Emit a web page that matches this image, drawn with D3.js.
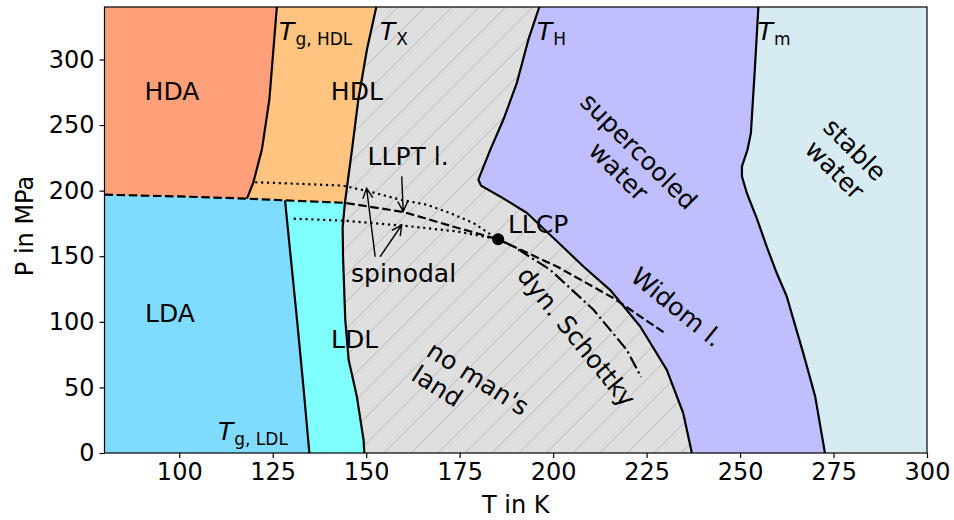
<!DOCTYPE html>
<html>
<head>
<meta charset="utf-8">
<script src="https://cdn.jsdelivr.net/npm/d3@7"></script>
<style>
  body { margin: 0; background: #fff; }
  text { font-family: "DejaVu Sans", sans-serif; fill: #000; }
</style>
</head>
<body>
<svg id="chart" width="954" height="520"></svg>
<script>
// Phase diagram of amorphous / supercooled water. Points are [T in K, P in MPa].

// Glass transition of HDL (HDA | HDL)
const tgHDL = [[126.1,340],[124.1,269.5],[122.1,231.3],[119.8,206.1],[118.1,193.9]];
// Crystallisation line T_X, above and below the LLPT line
const txUpper = [[152.7,340],[150.2,307.6],[147.9,269.5],[146.2,231.3],[144.3,190.7]];
const txLower = [[144.3,190.7],[143.7,172],[143.8,150],[144.4,101.5],[145.3,71.0],[147.5,43.0],[149.3,9.9],[149.5,0]];
// Glass transition of LDL (LDA | LDL)
const tgLDL = [[128.3,192.6],[128.8,177.9],[131.5,101.5],[133.2,50.6],[134.8,0]];
// Liquid-liquid phase transition line, ending in the critical point
const llcp = [185.3,162.9];
const llpt = [[80,196.9],[100,195.6],[118.1,193.9],[128.3,192.6],[144.3,190.7],[160.0,183.7],[173.4,172.5],[185.3,162.9]];
// Spinodals
const spinUpper = [[120.3,206.4],[132,205.2],[143.9,203.8],[152,198.5],[159.1,193.1],[166.2,189.3],[172.5,182.8],[178.7,175.3],[185.3,162.9]];
const spinLower = [[130.6,178.6],[143.9,177.1],[160.0,173.3],[174.3,168.9],[185.3,162.9]];
// Widom line and dynamic Schottky line
const widom = [[185.3,162.9],[190.3,156.3],[201.0,142.2],[216.1,118.1],[229.9,91.4]];
const schottky = [[185.3,162.9],[189.4,157.5],[199.2,139.7],[210.8,109.2],[219.7,78.6],[223.5,58.0]];
// Homogeneous nucleation line T_H
const tH = [[196.3,340],[193.4,315.3],[190.3,282.2],[186.7,254.2],[183.2,231.3],[180.0,208.4],[180.7,203.8],
            [185.8,195.6],[193.0,183.0],[200.1,163.9],[208.1,142.2],[215.2,124.4],[223.3,96.4],[230.4,63.4],[234.8,30.3],[237.1,0]];
// Melting line T_m
const tM = [[254.9,340],[254.0,294.9],[252.9,244],[252.0,231.3],[250.5,218.5],[250.5,210.9],[251.8,198.2],
            [254.6,177.9],[257.1,157.5],[259.8,137.2],[262.5,119.3],[264.3,101.5],[266.9,76.1],[270.1,43.0],[272.7,0]];

// Axis ticks
const xTicks = [100,125,150,175,200,225,250,275,300];
const yTicks = [0,50,100,150,200,250,300];

// Region and line labels
const plainLabels = [
  {text:"HDA", T:98.05, P:269.1},
  {text:"HDL", T:147.5, P:269.1},
  {text:"LLPT l.", T:161.2, P:219.5},
  {text:"LDA", T:97.5, P:100.1},
  {text:"LDL", T:146.9, P:80.0},
  {text:"spinodal", T:160.0, P:130.6}
];
const llcpLabel = {text:"LLCP", T:187.9, P:167.5};
const tempLabels = [
  {sub:"g, HDL", T:126.7, P:314.8},
  {sub:"X", T:153.7, P:314.8},
  {sub:"H", T:195.7, P:314.8},
  {sub:"m", T:254.7, P:314.8},
  {sub:"g, LDL", T:110.35, P:9.9}
];
const rotLabels = [
  {lines:["supercooled","water"], T:220.0, P:221.8, angle:45, align:"middle"},
  {lines:["stable","water"], T:277.8, P:223.0, angle:45, align:"middle"},
  {lines:["Widom l."], T:232.9, P:110.5, angle:39, align:"middle"},
  {lines:["dyn. Schottky"], T:206.0, P:88.0, angle:51, align:"middle"},
  {lines:["no man's","land"], T:177.7, P:46.9, angle:32.5, align:"start"}
];
// Annotation arrows: [tail, head]
const arrows = [
  [[159.5,210.9],[159.9,184.2]],
  [[152.4,149.6],[150.1,201.8]],
  [[153.7,149.6],[159.5,173.8]]
];

const svg = d3.select("#chart");
const x = d3.scaleLinear().domain([80,300]).range([104.5,927]);
const y = d3.scaleLinear().domain([0,340]).range([453,7]);

const defs = svg.append("defs");
defs.append("clipPath").attr("id","plotClip")
  .append("rect").attr("x",x(80)).attr("y",y(340)).attr("width",x(300)-x(80)).attr("height",y(0)-y(340));
const hatch = defs.append("pattern").attr("id","hatch").attr("patternUnits","userSpaceOnUse")
  .attr("width",27).attr("height",27);
hatch.append("rect").attr("width",27).attr("height",27).attr("fill","#dfdfdf");
hatch.append("path").attr("d","M0,27L27,0M-4,4L4,-4M23,31L31,23")
  .attr("stroke","#c4c4c4").attr("stroke-width",1.1);

const line = d3.line().x(d => x(d[0])).y(d => y(d[1]));
const poly = pts => line(pts) + "Z";
const plot = svg.append("g").attr("clip-path","url(#plotClip)");

const far = [[60,-20],[60,360]];
const llptUpTo = t => llpt.filter(d => d[0] <= t + 1e-9);

// Filled regions, painted from right to left
plot.append("rect").attr("x",x(80)).attr("y",y(340)).attr("width",x(300)-x(80)).attr("height",y(0)-y(340))
  .attr("fill","#d6ebf2");                                         // stable water
plot.append("path").attr("d", poly([[tM[0][0],360], ...tM, [tM[tM.length-1][0],-20], ...far])).attr("fill","#bfbfff");   // supercooled
plot.append("path").attr("d", poly([[tH[0][0],360], ...tH, [tH[tH.length-1][0],-20], ...far])).attr("fill","url(#hatch)"); // no man's land
const tx = txUpper.concat(txLower.slice(1));
plot.append("path").attr("d", poly([[tx[0][0],360], ...tx, [tx[tx.length-1][0],-20], ...far])).attr("fill","#80ffff");   // LDL
plot.append("path").attr("d", poly([[txUpper[0][0],360], ...txUpper, ...llptUpTo(144.3).reverse(), [60,196.9],[60,360]]))
  .attr("fill","#ffc580");                                         // HDL
plot.append("path").attr("d", poly([[tgLDL[tgLDL.length-1][0],-20], ...tgLDL.slice().reverse(), ...llptUpTo(128.3).reverse(), [60,196.9],[60,-20]]))
  .attr("fill","#80dcff");                                         // LDA
plot.append("path").attr("d", poly([[tgHDL[0][0],360], ...tgHDL, ...llptUpTo(118.1).reverse(), [60,196.9],[60,360]]))
  .attr("fill","#ffa07a");                                         // HDA

// Boundary lines
const lw = 2.2;
const drawLine = (pts, dash) => plot.append("path").attr("d", line(pts)).attr("fill","none")
  .attr("stroke","#000").attr("stroke-width",lw).attr("stroke-linejoin","round")
  .attr("stroke-dasharray", dash || null);
[tgHDL, tx, tgLDL, tH, tM].forEach(p => drawLine(p));
drawLine(llpt, "8.5,3.6");
drawLine(widom, "8.5,3.6");
drawLine(spinUpper, "2.2,3.7");
drawLine(spinLower, "2.2,3.7");
drawLine(schottky, "13,3.6,2.2,3.6");

plot.append("circle").attr("cx",x(llcp[0])).attr("cy",y(llcp[1])).attr("r",6).attr("fill","#000");

// Arrows ("->" style)
arrows.forEach(([a,b]) => {
  const x1 = x(a[0]), y1 = y(a[1]), x2 = x(b[0]), y2 = y(b[1]);
  const ang = Math.atan2(y2-y1, x2-x1), hl = 10, hw = 5;
  const bx = x2 - hl*Math.cos(ang), by = y2 - hl*Math.sin(ang);
  const px = -Math.sin(ang)*hw, py = Math.cos(ang)*hw;
  svg.append("path").attr("d", `M${x1},${y1}L${x2},${y2}M${bx+px},${by+py}L${x2},${y2}L${bx-px},${by-py}`)
    .attr("fill","none").attr("stroke","#000").attr("stroke-width",1.4).attr("stroke-linejoin","miter");
});

// Axes
const fs = 25;
const xAxis = svg.append("g").attr("transform",`translate(0,${y(0)})`)
  .call(d3.axisBottom(x).tickValues(xTicks).tickSize(5).tickPadding(5).tickSizeOuter(0));
const yAxis = svg.append("g").attr("transform",`translate(${x(80)},0)`)
  .call(d3.axisLeft(y).tickValues(yTicks).tickSize(5).tickPadding(5).tickSizeOuter(0));
[xAxis, yAxis].forEach(g => {
  g.select(".domain").remove();
  g.selectAll("line").attr("stroke","#000").attr("stroke-width",1.2);
  g.selectAll("text").attr("font-size",24).attr("font-family","DejaVu Sans").attr("fill","#000");
});
svg.append("rect").attr("x",x(80)).attr("y",y(340)).attr("width",x(300)-x(80)).attr("height",y(0)-y(340))
  .attr("fill","none").attr("stroke","#000").attr("stroke-width",1.2);

svg.append("text").attr("x",(x(80)+x(300))/2).attr("y",513).attr("text-anchor","middle")
  .attr("font-size",24).text("T in K");
svg.append("text").attr("transform",`translate(33,${(y(0)+y(340))/2-4}) rotate(-90)`).attr("text-anchor","middle")
  .attr("font-size",24).text("P in MPa");

// Labels
plainLabels.forEach(l => svg.append("text").attr("x",x(l.T)).attr("y",y(l.P))
  .attr("text-anchor","middle").attr("font-size",fs).text(l.text));
svg.append("text").attr("x",x(llcpLabel.T)).attr("y",y(llcpLabel.P)).attr("font-size",fs).text(llcpLabel.text);

tempLabels.forEach(l => {
  const t = svg.append("text").attr("x",x(l.T)).attr("y",y(l.P)).attr("font-size",fs);
  t.append("tspan").attr("font-style","italic").text("T");
  t.append("tspan").attr("font-size",17).attr("dx",1).attr("dy",4.5).text(l.sub);
});

rotLabels.forEach(b => {
  const g = svg.append("g").attr("transform",`translate(${x(b.T)},${y(b.P)}) rotate(${b.angle})`);
  const t = g.append("text").attr("font-size",fs).attr("text-anchor",b.align);
  const n = b.lines.length, gap = 28.5;
  const spans = b.lines.map((ln,i) => t.append("tspan").attr("x",0)
    .attr("y",(i-(n-1)/2)*gap + 0.3*fs).text(ln));
  if (b.align === "start") {
    const maxW = d3.max(spans, s => s.node().getComputedTextLength());
    spans.forEach(s => s.attr("x", -maxW/2));
  }
});
</script>
</body>
</html>
